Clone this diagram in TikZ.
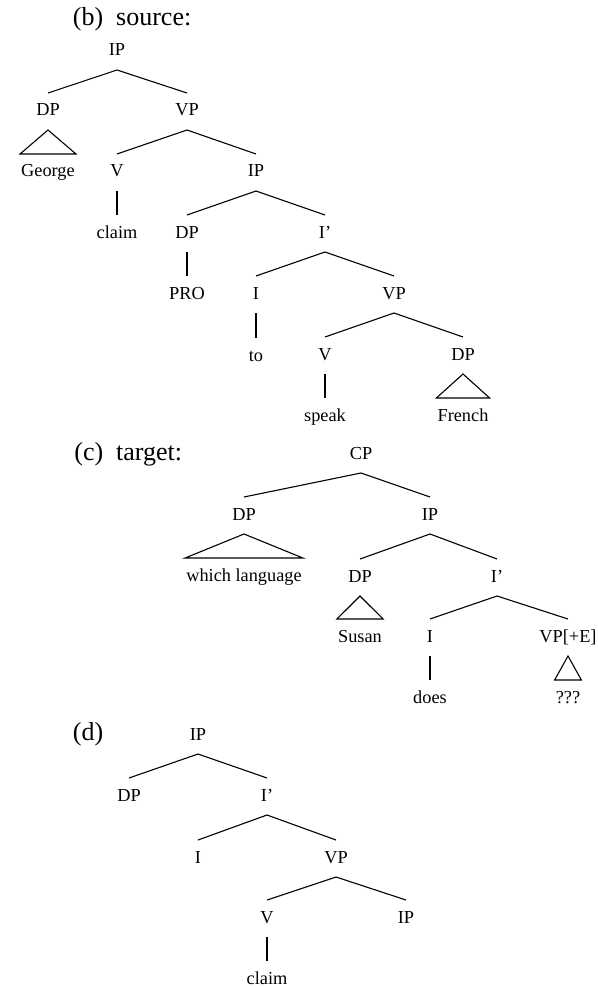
\documentclass[tikz,border=0pt]{standalone}
\usepackage{fontspec}
\setmainfont{Liberation Serif}
\newcommand\treebr[2]{\draw[edge] ([yshift=-14pt]#1.base) -- ([yshift=23pt]#2.base);}
\newcommand\treetri[2]{\draw[edge] ([yshift=-14pt]#1.base) -- ([yshift=23pt]#2.base west) -- ([yshift=23pt]#2.base east) -- cycle;}
\begin{document}
\begin{tikzpicture}[x=1pt,y=-1pt,
  lab/.style={anchor=base,inner xsep=1pt,inner ysep=0pt,font=\fontsize{18.3}{20}\selectfont},
  ttl/.style={anchor=base west,inner sep=0pt,font=\fontsize{26}{30}\selectfont},
  edge/.style={line width=1.1pt,line join=miter}]
\useasboundingbox (0,0) rectangle (597,987);
% (b)
\node[ttl] (tb) at (72,26) {\makebox[31pt][r]{(b)}\hspace{13pt}source:};
\node[lab] (b1) at (117,56) {IP};
\node[lab] (b2) at (48,116) {DP};
\node[lab] (b3) at (187,116) {VP};
\node[lab] (b4) at (48,177) {George};
\node[lab] (b5) at (117,177) {V};
\node[lab] (b6) at (256,177) {IP};
\node[lab] (b7) at (117,238) {claim};
\node[lab] (b8) at (187,238) {DP};
\node[lab] (b9) at (325,238) {I’};
\node[lab] (b10) at (187,299) {PRO};
\node[lab] (b11) at (256,299) {I};
\node[lab] (b12) at (394,299) {VP};
\node[lab] (b13) at (256,361) {to};
\node[lab] (b14) at (325,360) {V};
\node[lab] (b15) at (463,360) {DP};
\node[lab] (b16) at (325,421) {speak};
\node[lab] (b17) at (463,421) {French};
\treebr{b1}{b2} \treebr{b1}{b3}
\treetri{b2}{b4}
\treebr{b3}{b5} \treebr{b3}{b6}
\treebr{b5}{b7}
\treebr{b6}{b8} \treebr{b6}{b9}
\treebr{b8}{b10}
\treebr{b9}{b11} \treebr{b9}{b12}
\treebr{b11}{b13}
\treebr{b12}{b14} \treebr{b12}{b15}
\treebr{b14}{b16}
\treetri{b15}{b17}
% (c)
\node[ttl] (tc) at (72,460) {\makebox[31pt][r]{(c)}\hspace{13pt}target:};
\node[lab] (c1) at (361,459) {CP};
\node[lab] (c2) at (244,520) {DP};
\node[lab] (c3) at (430,520) {IP};
\node[lab] (c4) at (244,581) {which language};
\node[lab] (c5) at (360,582) {DP};
\node[lab] (c6) at (497,582) {I’};
\node[lab] (c7) at (360,642) {Susan};
\node[lab] (c8) at (430,642) {I};
\node[lab] (c9) at (568,642) {VP[+E]};
\node[lab] (c10) at (430,703) {does};
\node[lab] (c11) at (568,703) {???};
\treebr{c1}{c2} \treebr{c1}{c3}
\treetri{c2}{c4}
\treebr{c3}{c5} \treebr{c3}{c6}
\treetri{c5}{c7}
\treebr{c6}{c8} \treebr{c6}{c9}
\treebr{c8}{c10}
\treetri{c9}{c11}
% (d)
\node[ttl] (td) at (72,740) {\makebox[31pt][r]{(d)}};
\node[lab] (d1) at (198,740) {IP};
\node[lab] (d2) at (129,801) {DP};
\node[lab] (d3) at (267,801) {I’};
\node[lab] (d4) at (198,863) {I};
\node[lab] (d5) at (336,863) {VP};
\node[lab] (d6) at (267,923) {V};
\node[lab] (d7) at (406,923) {IP};
\node[lab] (d8) at (267,984) {claim};
\treebr{d1}{d2} \treebr{d1}{d3}
\treebr{d3}{d4} \treebr{d3}{d5}
\treebr{d5}{d6} \treebr{d5}{d7}
\treebr{d6}{d8}
\end{tikzpicture}
\end{document}
